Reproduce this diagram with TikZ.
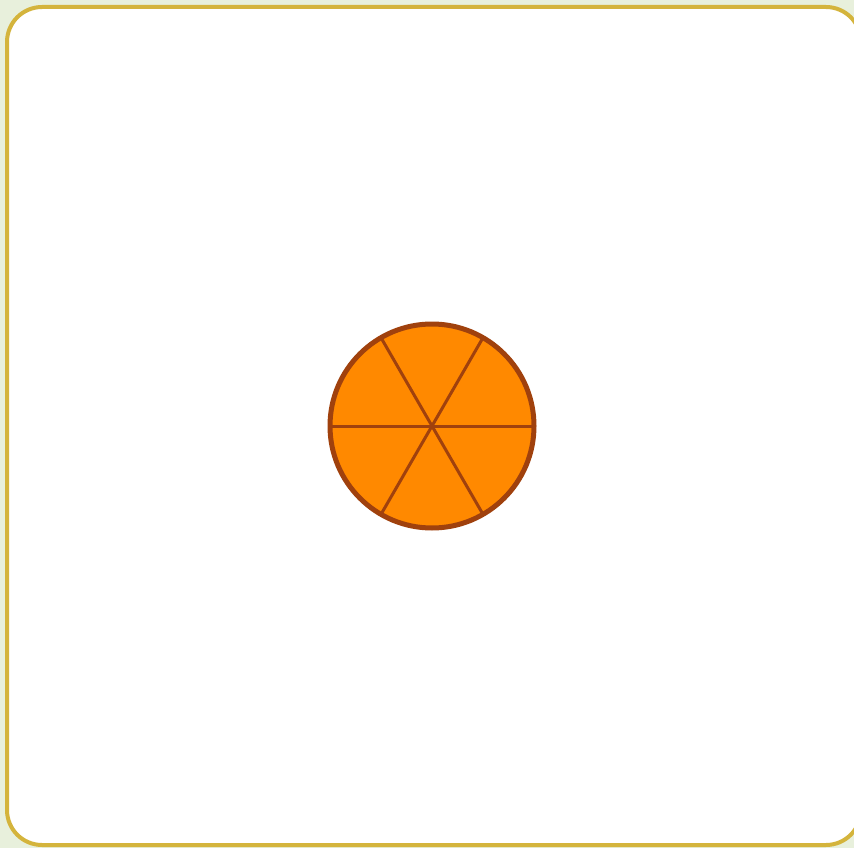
\documentclass[tikz,border=0pt]{standalone}
\usetikzlibrary{positioning}
\definecolor{bgsage}{RGB}{232,240,220}
\definecolor{framegold}{RGB}{212,180,60}
\definecolor{peelorange}{RGB}{255,137,0}
\definecolor{rindbrown}{RGB}{160,65,13}

\begin{document}
\begin{tikzpicture}[x=1pt,y=-1pt,
    frame/.style={draw=framegold,line width=4pt,fill=white,rounded corners=35pt},
    fruit/.style={circle,draw=rindbrown,line width=5pt,fill=peelorange,
      minimum size=204pt,inner sep=0pt},
    slice/.style={draw=rindbrown,line width=3pt}]
    \fill[bgsage] (0,0) rectangle (854,848);
    \useasboundingbox (0,0) rectangle (854,848);
    \draw[frame] (7,7) rectangle (861,845);
    \node[fruit] (orange) at (432,426) {};
    \foreach \a in {0,60,...,300}
      \draw[slice] (orange.center) -- ++(\a:100);
  \end{tikzpicture}
\end{document}
